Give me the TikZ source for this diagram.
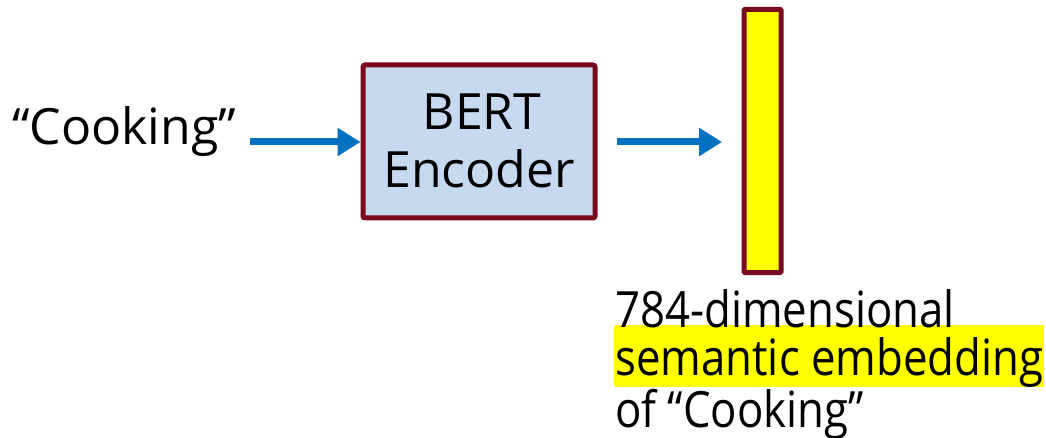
\documentclass[tikz,border=0pt]{standalone}
\usepackage{fontspec}
\setmainfont{Open Sans}
\newfontfamily\narrowfont{Open Sans}[FakeStretch=0.875]
\usetikzlibrary{arrows.meta}
\definecolor{boxred}{HTML}{7A0A1E}
\definecolor{boxblue}{HTML}{C6D9F0}
\definecolor{arrowblue}{HTML}{0070C0}
\definecolor{hiyellow}{HTML}{FFFF00}
\tikzset{
  txt/.style={inner sep=0pt, font=\fontsize{50}{60}\selectfont},
  ntxt/.style={inner sep=0pt, font=\narrowfont\fontsize{50}{60}\selectfont},
  flow/.style={draw=arrowblue, line width=7pt, -{Triangle[length=23pt,width=27pt]}},
}
\begin{document}
\begin{tikzpicture}[x=1pt,y=-1pt]
\useasboundingbox (0,0) rectangle (1046,438);
\node[txt, anchor=base west] (cook) at (12,145) {“Cooking”};
\node[draw=boxred, line width=5pt, fill=boxblue, rounded corners=2pt, minimum width=232pt, minimum height=153pt, inner sep=0pt] (bert) at (479,141.5) {};
\node[txt, anchor=base] (bertl) at (482,130) {BERT};
\node[txt, anchor=base] (encl) at (479,188) {Encoder};
\node[draw=boxred, line width=5pt, fill=hiyellow, rounded corners=1pt, minimum width=37pt, minimum height=263pt, inner sep=0pt] (emb) at (762.5,141) {};
\coordinate (a1s) at (250,142);
\coordinate (a2s) at (617,142);
\coordinate (a2e) at (722,142);
\draw[flow] (a1s) -- (bert.west |- a1s);
\draw[flow] (a2s) -- (a2e);
\node[ntxt, anchor=base west, fill=hiyellow, text height=48pt, text depth=10pt, inner ysep=2pt, inner xsep=1pt] (l2) at (614,375) {semantic embedding};
\node[ntxt, anchor=base west] (l1) at (615,327) {784-dimensional};
\node[ntxt, anchor=base west] (l3) at (615,427) {of “Cooking”};
\end{tikzpicture}
\end{document}
